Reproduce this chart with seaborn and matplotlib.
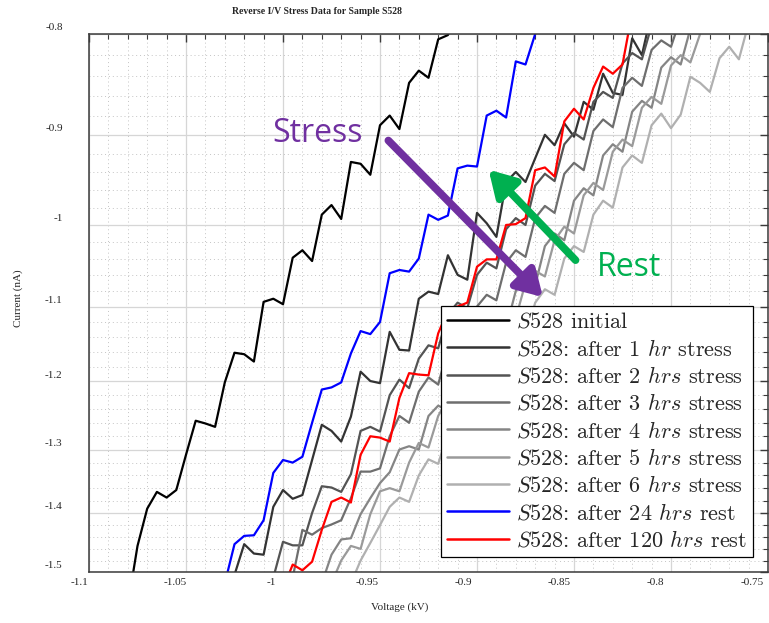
import numpy as np
import pandas as pd
import matplotlib
matplotlib.use("Agg")
import matplotlib.pyplot as plt
import seaborn as sns
from matplotlib.ticker import FixedLocator, FuncFormatter
from matplotlib.transforms import ScaledTranslation

# Reverse bias sweep grid (kV), 5 V steps
v_grid = [-1.080, -1.075, -1.070, -1.065, -1.060, -1.055, -1.050, -1.045, -1.040, -1.035,
          -1.030, -1.025, -1.020, -1.015, -1.010, -1.005, -1.000, -0.995, -0.990, -0.985,
          -0.980, -0.975, -0.970, -0.965, -0.960, -0.955, -0.950, -0.945, -0.940, -0.935,
          -0.930, -0.925, -0.920, -0.915, -0.910, -0.905, -0.900, -0.895, -0.890, -0.885,
          -0.880, -0.875, -0.870, -0.865, -0.860, -0.855, -0.850, -0.845, -0.840, -0.835,
          -0.830, -0.825, -0.820, -0.815, -0.810, -0.805, -0.800, -0.795, -0.790, -0.785,
          -0.780, -0.775, -0.770, -0.765, -0.760]

# Measured currents (nA); each list starts at the given sweep voltage
start_initial = -1.080
i_initial = [-1.560, -1.455, -1.393, -1.366, -1.375, -1.363, -1.308, -1.257, -1.261, -1.266,
             -1.202, -1.161, -1.163, -1.173, -1.094, -1.090, -1.097, -1.039, -1.030, -1.043,
             -0.988, -0.977, -0.993, -0.929, -0.931, -0.943, -0.890, -0.880, -0.894, -0.847,
             -0.835, -0.842, -0.805, -0.801, -0.780]

start_1hr = -1.025
i_1hr = [-1.505, -1.452, -1.468, -1.470, -1.390, -1.363, -1.377, -1.371, -1.316, -1.263,
         -1.272, -1.288, -1.251, -1.187, -1.200, -1.203, -1.133, -1.157, -1.158, -1.090,
         -1.081, -1.084, -1.036, -1.060, -1.066, -0.986, -0.998, -1.014, -0.951, -0.940,
         -0.951, -0.925, -0.900, -0.911, -0.888, -0.902, -0.866, -0.874, -0.838, -0.857,
         -0.859, -0.804, -0.820, -0.780]

start_2hr = -1.005
i_2hr = [-1.510, -1.448, -1.454, -1.454, -1.400, -1.357, -1.359, -1.366, -1.338, -1.272,
         -1.266, -1.273, -1.220, -1.198, -1.210, -1.169, -1.151, -1.155, -1.110, -1.095,
         -1.102, -1.060, -1.045, -1.052, -1.005, -0.992, -1.000, -0.955, -0.942, -0.950,
         -0.910, -0.898, -0.905, -0.866, -0.856, -0.862, -0.828, -0.818, -0.824, -0.792]

start_3hr = -0.995
i_3hr = [-1.510, -1.428, -1.436, -1.425, -1.419, -1.412, -1.376, -1.334, -1.334, -1.329,
         -1.280, -1.250, -1.260, -1.215, -1.195, -1.205, -1.155, -1.140, -1.148, -1.100,
         -1.085, -1.092, -1.045, -1.030, -1.038, -0.992, -0.978, -0.986, -0.942, -0.930,
         -0.938, -0.896, -0.884, -0.892, -0.852, -0.842, -0.850, -0.815, -0.806, -0.812,
         -0.785]

start_4hr = -0.980
i_4hr = [-1.520, -1.470, -1.444, -1.442, -1.402, -1.376, -1.352, -1.335, -1.300, -1.295,
         -1.300, -1.250, -1.235, -1.242, -1.190, -1.175, -1.183, -1.135, -1.120, -1.128,
         -1.080, -1.065, -1.073, -1.025, -1.010, -1.018, -0.972, -0.958, -0.966, -0.922,
         -0.910, -0.918, -0.876, -0.865, -0.872, -0.832, -0.822, -0.829, -0.795]

start_5hr = -0.975
i_5hr = [-1.520, -1.480, -1.455, -1.460, -1.402, -1.365, -1.360, -1.365, -1.320, -1.290,
         -1.297, -1.250, -1.225, -1.232, -1.185, -1.165, -1.172, -1.125, -1.108, -1.115,
         -1.070, -1.055, -1.062, -1.018, -1.002, -1.010, -0.966, -0.952, -0.960, -0.918,
         -0.905, -0.912, -0.872, -0.861, -0.868, -0.830, -0.820, -0.827, -0.800, -0.785]

start_6hr = -0.965
i_6hr = [-1.520, -1.480, -1.450, -1.420, -1.390, -1.375, -1.382, -1.340, -1.315, -1.322,
         -1.275, -1.250, -1.257, -1.210, -1.190, -1.197, -1.150, -1.132, -1.140, -1.095,
         -1.078, -1.085, -1.040, -1.025, -1.032, -0.988, -0.972, -0.980, -0.935, -0.922,
         -0.930, -0.890, -0.878, -0.893, -0.879, -0.841, -0.847, -0.856, -0.823, -0.812,
         -0.824, -0.790]

start_rest24 = -1.030
i_rest24 = [-1.520, -1.452, -1.438, -1.437, -1.412, -1.336, -1.316, -1.320, -1.311, -1.260,
            -1.212, -1.209, -1.202, -1.162, -1.132, -1.136, -1.120, -1.058, -1.054, -1.056,
            -1.040, -0.988, -0.994, -0.989, -0.936, -0.933, -0.934, -0.880, -0.875, -0.882,
            -0.826, -0.829, -0.800, -0.780]

start_rest120 = -1.000
i_rest120 = [-1.530, -1.487, -1.497, -1.482, -1.428, -1.382, -1.375, -1.383, -1.308, -1.280,
             -1.282, -1.288, -1.224, -1.189, -1.191, -1.192, -1.135, -1.105, -1.100, -1.095,
             -1.050, -1.041, -1.041, -1.000, -0.999, -0.992, -0.938, -0.935, -0.945, -0.886,
             -0.873, -0.884, -0.852, -0.831, -0.838, -0.829, -0.780]

labels = [r"$S528$ initial",
          r"$S528$: after 1 $hr$ stress",
          r"$S528$: after 2 $hrs$ stress",
          r"$S528$: after 3 $hrs$ stress",
          r"$S528$: after 4 $hrs$ stress",
          r"$S528$: after 5 $hrs$ stress",
          r"$S528$: after 6 $hrs$ stress",
          r"$S528$: after 24 $hrs$ rest",
          r"$S528$: after 120 $hrs$ rest"]
colors = ["#000000", "#333333", "#545454", "#6e6e6e", "#858585",
          "#9a9a9a", "#b0b0b0", "#0000ff", "#ff0000"]
series = [(start_initial, i_initial), (start_1hr, i_1hr), (start_2hr, i_2hr),
          (start_3hr, i_3hr), (start_4hr, i_4hr), (start_5hr, i_5hr),
          (start_6hr, i_6hr), (start_rest24, i_rest24), (start_rest120, i_rest120)]

x_ticks = [-1.1, -1.05, -1.0, -0.95, -0.9, -0.85, -0.8, -0.75]
y_ticks = [-1.5, -1.4, -1.3, -1.2, -1.1, -1.0, -0.9, -0.8]

frames = []
for lab, (start, cur) in zip(labels, series):
    k = v_grid.index(start)
    frames.append(pd.DataFrame({"Voltage": v_grid[k:k + len(cur)],
                                "Current": cur, "Run": lab}))
data = pd.concat(frames, ignore_index=True)

sns.set_style("white")
plt.rcParams["axes.unicode_minus"] = False
plt.rcParams["mathtext.fontset"] = "cm"
plt.rcParams["font.family"] = ["Liberation Serif", "DejaVu Serif"]

fig = plt.figure(figsize=(7.69, 6.23), dpi=100)
ax = fig.add_axes([89 / 769, 1 - 572 / 623, 679 / 769, 538 / 623])

# |I| on a logarithmic axis, drawn with the sign kept
ax.set_yscale("function",
              functions=(lambda y: -np.log(np.clip(np.abs(y), 1e-6, None)),
                         lambda t: -np.exp(-t)))

sns.lineplot(data=data, x="Voltage", y="Current", hue="Run",
             palette=dict(zip(labels, colors)), hue_order=labels,
             estimator=None, sort=False, lw=1.6, ax=ax, legend=True)

ax.set_xlim(-1.1, -0.75)
ax.set_ylim(-1.5, -0.8)
ax.xaxis.set_major_locator(FixedLocator(x_ticks))
ax.yaxis.set_major_locator(FixedLocator(y_ticks))
ax.xaxis.set_minor_locator(FixedLocator(np.round(np.arange(-1.1, -0.7499, 0.01), 3)))
ax.yaxis.set_minor_locator(FixedLocator(np.round(np.arange(-1.5, -0.7999, 0.02), 3)))
fmt = FuncFormatter(lambda v, p: f"{round(v, 3):g}")
ax.xaxis.set_major_formatter(fmt)
ax.yaxis.set_major_formatter(fmt)

ax.grid(which="major", color="#d6d6d6", lw=0.9, ls="-")
ax.grid(which="minor", color="#c4c4c4", lw=0.7, ls=(0, (1, 3)))
ax.set_axisbelow(True)

ax.tick_params(which="both", direction="in", top=True, right=True,
               color="#3a3a3a", labelsize=8)
ax.tick_params(which="major", length=6, width=1.0)
ax.tick_params(which="minor", length=3.5, width=0.8)
ax.tick_params(axis="x", which="major", pad=4)
ax.tick_params(axis="y", which="major", pad=19)
for s in ax.spines.values():
    s.set_color("#3a3a3a")
    s.set_linewidth(1.1)

# tick labels sit slightly left of / above their ticks
for i, lab in enumerate(ax.get_xticklabels()):
    dx = -(10 + 0.9 * i) / 100
    lab.set_transform(lab.get_transform() + ScaledTranslation(dx, 0, fig.dpi_scale_trans))
for lab in ax.get_yticklabels():
    lab.set_transform(lab.get_transform() + ScaledTranslation(0, 0.07, fig.dpi_scale_trans))

ax.set_xlabel("")
ax.set_ylabel("")
fig.text(400 / 769, 1 - 607 / 623, "Voltage (kV)", ha="center", va="center", fontsize=8)
fig.text(18 / 769, 1 - 298 / 623, "Current (nA)", ha="center", va="center",
         rotation=90, fontsize=8)
fig.text(317 / 769, 1 - 12 / 623, "Reverse I/V Stress Data for Sample S528",
         ha="center", va="center", fontsize=7, fontweight="bold")

handles, hl = ax.get_legend_handles_labels()
for h in handles:
    h.set_linewidth(1.8)
leg = ax.legend(handles, hl, loc="upper right", bbox_to_anchor=(0.978, 0.495),
                borderaxespad=0, fancybox=False, framealpha=1, edgecolor="black",
                prop={"family": "cmr10", "size": 16}, handlelength=2.8,
                handletextpad=0.3, labelspacing=0.285, borderpad=0.28)
leg.get_frame().set_linewidth(0.9)

# Stress / rest direction arrows
ax.annotate("", xy=(-0.866, -1.088), xytext=(-0.9457, -0.906),
            arrowprops=dict(arrowstyle="-|>,head_length=1.1,head_width=0.65",
                            color="#7030a0", lw=5.5, shrinkA=0, shrinkB=0,
                            mutation_scale=14))
ax.annotate("", xy=(-0.894, -0.9375), xytext=(-0.8492, -1.042),
            arrowprops=dict(arrowstyle="-|>,head_length=1.1,head_width=0.65",
                            color="#00b050", lw=5.5, shrinkA=0, shrinkB=0,
                            mutation_scale=14))
ax.text(-0.982, -0.9073, "Stress", color="#7030a0", fontsize=23,
        family="Open Sans", ha="center", va="baseline")
ax.text(-0.8219, -1.0614, "Rest", color="#00b050", fontsize=23,
        family="Open Sans", ha="center", va="baseline")

fig.savefig("out.png", dpi=100)
